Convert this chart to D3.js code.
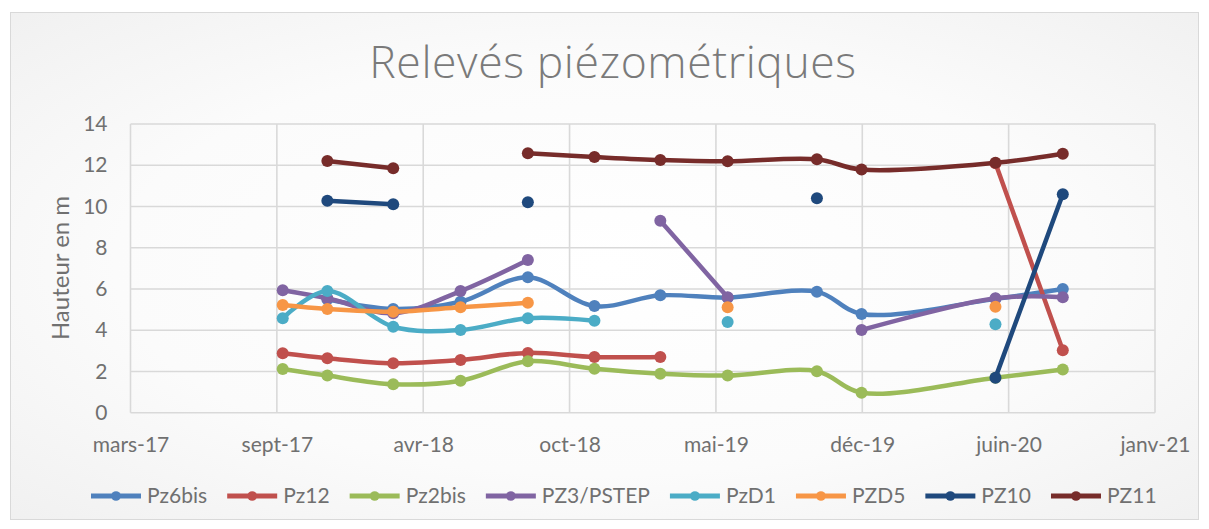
<!DOCTYPE html>
<html lang="fr">
<head>
<meta charset="utf-8">
<script src="https://cdn.jsdelivr.net/npm/d3@7"></script>
<style>
  html, body { margin: 0; padding: 0; background: #ffffff; }
  svg { display: block; }
</style>
</head>
<body>
<svg id="chart" width="1209" height="529"></svg>
<script>
// Dates de relevé (fin de trimestre)
const dates = ["2017-09-30", "2017-11-30", "2018-02-28", "2018-05-31", "2018-08-31", "2018-11-30",
               "2019-02-28", "2019-05-31", "2019-09-30", "2019-11-30", "2020-05-31", "2020-08-31"];

// Hauteurs mesurées (m) — null = pas de relevé
const pz6bis  = [null, 5.50, 5.03, 5.38, 6.57, 5.17, 5.69, 5.58, 5.87, 4.79, 5.52, 6.00];
const pz12    = [2.88, 2.64, 2.40, 2.56, 2.90, 2.70, 2.70, null, null, null, 12.10, 3.03];
const pz2bis  = [2.12, 1.80, 1.38, 1.55, 2.49, 2.13, 1.89, 1.80, 2.01, 0.97, 1.70, 2.09];
const pz3     = [5.94, 5.55, 4.82, 5.90, 7.41, null, 9.31, 5.60, null, 4.01, 5.55, 5.60];
const pzd1    = [4.58, 5.90, 4.17, 4.01, 4.58, 4.46, null, 4.40, null, null, 4.29, null];
const pzd5    = [5.22, 5.03, 4.90, 5.11, 5.33, null, null, 5.11, null, null, 5.14, null];
const pz10    = [null, 10.28, 10.11, null, 10.20, null, null, null, 10.40, null, 1.70, 10.59];
const pz11    = [null, 12.21, 11.85, null, 12.58, 12.40, 12.25, 12.19, 12.29, 11.79, 12.12, 12.56];

const seriesNames  = ["Pz6bis", "Pz12", "Pz2bis", "PZ3/PSTEP", "PzD1", "PZD5", "PZ10", "PZ11"];
const seriesValues = [pz6bis, pz12, pz2bis, pz3, pzd1, pzd5, pz10, pz11];
const seriesColors = ["#4f81bd", "#c0504d", "#9bbb59", "#8064a2", "#4bacc6", "#f79646", "#1f497d", "#772c2a"];

// Axe des abscisses : un repère tous les 200 jours à partir du 6 mars 2017
const xStart = "2017-03-06";
const xStepDays = 200;
const xTickLabels = ["mars-17", "sept-17", "avr-18", "oct-18", "mai-19", "déc-19", "juin-20", "janv-21"];
const yTicks = [0, 2, 4, 6, 8, 10, 12, 14];

const plot = { left: 130.5, right: 1155, top: 124, bottom: 412.7 };

const svg = d3.select("#chart");
const parse = d3.utcParse("%Y-%m-%d");
const t0 = parse(xStart);
const xTickDates = xTickLabels.map((_, i) => d3.utcDay.offset(t0, i * xStepDays));

const x = d3.scaleUtc()
  .domain([xTickDates[0], xTickDates[xTickDates.length - 1]])
  .range([plot.left, plot.right]);
const y = d3.scaleLinear().domain([0, 14]).range([plot.bottom, plot.top]);

// Fond du graphique
const defs = svg.append("defs");
const grad = defs.append("radialGradient").attr("id", "bg")
  .attr("cx", "50%").attr("cy", "50%").attr("r", "75%");
grad.append("stop").attr("offset", "0%").attr("stop-color", "#ffffff");
grad.append("stop").attr("offset", "55%").attr("stop-color", "#fbfbfb");
grad.append("stop").attr("offset", "100%").attr("stop-color", "#efefef");

svg.append("rect").attr("x", 10.5).attr("y", 12.5).attr("width", 1188).attr("height", 507)
  .attr("fill", "url(#bg)").attr("stroke", "#d9d9d9").attr("stroke-width", 1);

// Titre
svg.append("text")
  .attr("x", 613).attr("y", 78)
  .attr("text-anchor", "middle")
  .attr("font-family", "'Open Sans', sans-serif")
  .attr("font-weight", 300)
  .attr("font-size", 44.5)
  .attr("letter-spacing", 0.6)
  .attr("fill", "#7a7a7a")
  .text("Relevés piézométriques");

// Quadrillage
const grid = svg.append("g").attr("stroke", "#d9d9d9").attr("stroke-width", 1.6);
grid.selectAll("line.h").data(yTicks).join("line")
  .attr("x1", plot.left).attr("x2", plot.right)
  .attr("y1", d => y(d)).attr("y2", d => y(d));
grid.selectAll("line.v").data(xTickDates).join("line")
  .attr("x1", d => x(d)).attr("x2", d => x(d))
  .attr("y1", plot.top).attr("y2", plot.bottom);

// Axes (libellés seulement)
const labelFont = "Lato, 'Open Sans', sans-serif";
const labelSize = 21;
const labelColor = "#707070";
const yAxis = svg.append("g")
  .attr("transform", `translate(${plot.left},0)`)
  .call(d3.axisLeft(y).tickValues(yTicks).tickSize(0).tickPadding(23).tickFormat(d3.format("d")));
yAxis.select(".domain").remove();
yAxis.selectAll("text").attr("font-family", labelFont).attr("font-size", labelSize).attr("fill", labelColor);

const xAxis = svg.append("g")
  .attr("transform", `translate(0,${plot.bottom})`)
  .call(d3.axisBottom(x).tickValues(xTickDates).tickSize(0).tickPadding(24)
    .tickFormat((d, i) => xTickLabels[i]));
xAxis.select(".domain").remove();
xAxis.selectAll("text").attr("font-family", labelFont).attr("font-size", labelSize).attr("fill", labelColor);

svg.append("text")
  .attr("transform", `translate(61,268) rotate(-90)`)
  .attr("text-anchor", "middle").attr("dy", "0.35em")
  .attr("font-family", labelFont).attr("font-size", 24).attr("fill", labelColor)
  .text("Hauteur en m");

// Courbes lissées
const line = d3.line()
  .defined(d => d.v != null)
  .x(d => x(d.date)).y(d => y(d.v))
  .curve(d3.curveCatmullRom.alpha(0.5));

const series = seriesNames.map((name, k) => ({
  name, color: seriesColors[k],
  points: dates.map((dt, i) => ({ date: parse(dt), v: seriesValues[k][i] }))
}));

const gSeries = svg.append("g");
series.forEach(s => {
  const g = gSeries.append("g");
  g.append("path")
    .attr("d", line(s.points))
    .attr("fill", "none").attr("stroke", s.color)
    .attr("stroke-width", 4.5).attr("stroke-linejoin", "round").attr("stroke-linecap", "round");
  g.selectAll("circle").data(s.points.filter(p => p.v != null)).join("circle")
    .attr("cx", p => x(p.date)).attr("cy", p => y(p.v)).attr("r", 6)
    .attr("fill", s.color);
});

// Légende
const legend = svg.append("g").attr("transform", "translate(0,496)");
const symW = 50, gapText = 6, gapItem = 20;
const items = legend.selectAll("g.item").data(series).join("g");
items.append("line").attr("x1", 0).attr("x2", symW).attr("y1", 0).attr("y2", 0)
  .attr("stroke", d => d.color).attr("stroke-width", 5);
items.append("circle").attr("cx", symW / 2).attr("cy", 0).attr("r", 4.8).attr("fill", d => d.color);
items.append("text").attr("x", symW + gapText).attr("y", 0).attr("dy", "0.35em")
  .attr("font-family", labelFont).attr("font-size", labelSize).attr("fill", labelColor)
  .text(d => d.name);
const widths = [];
items.each(function() { widths.push(this.getBBox().width); });
let cx = 91;
items.attr("transform", (d, i) => { const t = `translate(${cx},0)`; cx += widths[i] + gapItem; return t; });
</script>
</body>
</html>
